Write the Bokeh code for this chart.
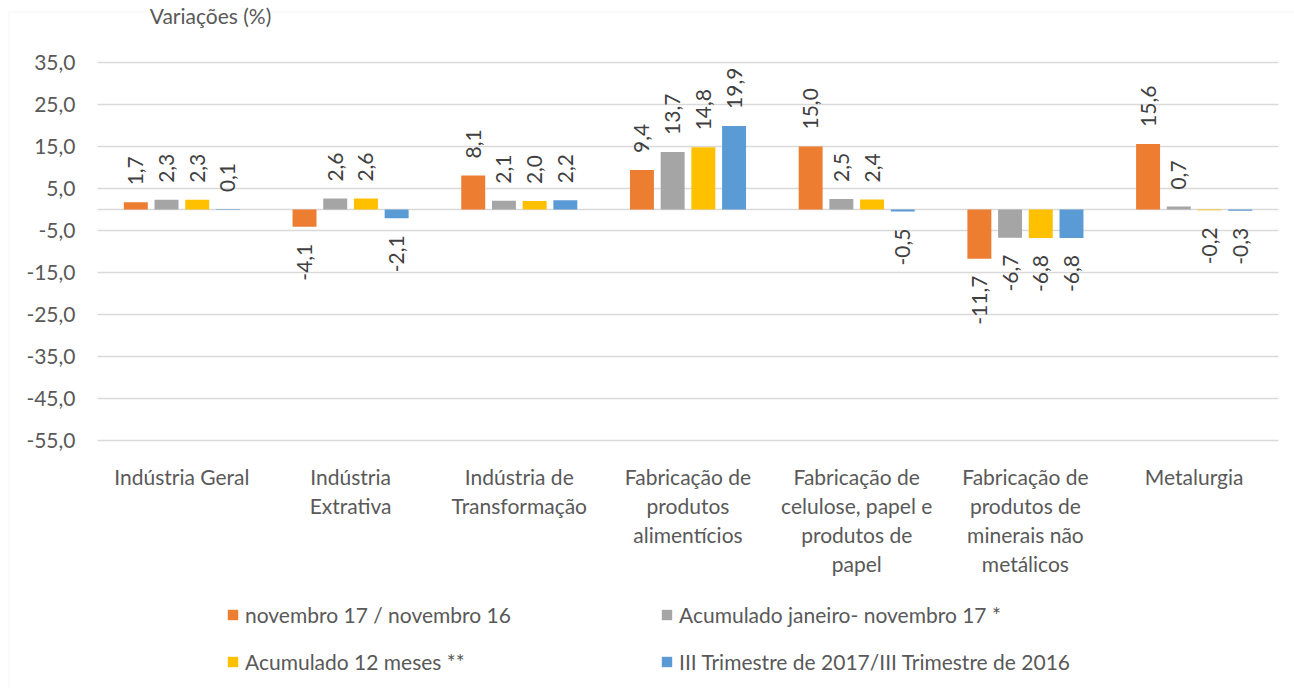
import numpy as np
from bokeh.plotting import figure
from bokeh.models import (ColumnDataSource, Range1d, Legend, LegendItem, Label, BoxAnnotation)
from bokeh.core.properties import value
from bokeh.embed import file_html
from bokeh.resources import INLINE

# ---------------- data ----------------
categories = [
    "Indústria Geral",
    "Indústria Extrativa",
    "Indústria de Transformação",
    "Fabricação de produtos alimentícios",
    "Fabricação de celulose, papel e produtos de papel",
    "Fabricação de produtos de minerais não metálicos",
    "Metalurgia",
]
category_labels = [
    "Indústria Geral",
    "Indústria\nExtrativa",
    "Indústria de\nTransformação",
    "Fabricação de\nprodutos\nalimentícios",
    "Fabricação de\ncelulose, papel e\nprodutos de\npapel",
    "Fabricação de\nprodutos de\nminerais não\nmetálicos",
    "Metalurgia",
]
series_names = [
    "novembro 17 / novembro 16",
    "Acumulado janeiro- novembro 17 *",
    "Acumulado 12 meses **",
    "III Trimestre de 2017/III Trimestre de 2016",
]
nov17_nov16 = [1.7, -4.1, 8.1, 9.4, 15.0, -11.7, 15.6]
acum_jan_nov17 = [2.3, 2.6, 2.1, 13.7, 2.5, -6.7, 0.7]
acum_12_meses = [2.3, 2.6, 2.0, 14.8, 2.4, -6.8, -0.2]
iii_trimestre = [0.1, -2.1, 2.2, 19.9, -0.5, -6.8, -0.3]
y_ticks = [-55, -45, -35, -25, -15, -5, 5, 15, 25, 35]
y_tick_labels = ["-55,0", "-45,0", "-35,0", "-25,0", "-15,0", "-5,0", "5,0", "15,0", "25,0", "35,0"]
axis_title = "Variações (%)"

series_values = [nov17_nov16, acum_jan_nov17, acum_12_meses, iii_trimestre]
colors = ["#ED7D31", "#A5A5A5", "#FFC000", "#5B9BD5"]
offsets = [-0.273, -0.091, 0.091, 0.273]

FONT = "Lato"
TXT = "#595959"
FS = "21px"

# layout (pixels) of the plot area inside the canvas
W, H = 1294, 688
PL, PR, PT, PB = 97, 1278, 62, 440
n_cat = len(categories)
y_min, y_max = min(y_ticks), max(y_ticks)
px_x = (PR - PL) / n_cat
px_y = (PB - PT) / (y_max - y_min)

p = figure(
    x_range=Range1d(-PL / px_x, n_cat + (W - PR) / px_x),
    y_range=Range1d(y_min - (H - PB) / px_y, y_max + PT / px_y),
    width=W, height=H,
    output_backend="svg", toolbar_location=None,
    x_axis_type=None, y_axis_type=None,
    min_border=0, min_border_left=0, min_border_right=0, min_border_top=0, min_border_bottom=0,
    title=None,
)
p.outline_line_color = None
p.background_fill_color = "white"
p.border_fill_color = "white"

# chart box border
p.add_layout(BoxAnnotation(left=8.5, right=3000, top=H - 11.5, bottom=-3000,
                           left_units="screen", right_units="screen",
                           top_units="screen", bottom_units="screen",
                           fill_color=None, fill_alpha=0,
                           line_color="#D9D9D9", line_width=1, level="underlay"))

# gridlines and zero line
grid_src = ColumnDataSource(dict(y=y_ticks, lab=y_tick_labels))
p.segment(x0=0, x1=n_cat, y0="y", y1="y", source=grid_src, line_color="#D9D9D9", line_width=1.5)
p.segment(x0=[0], x1=[n_cat], y0=[0], y1=[0], line_color="#D9D9D9", line_width=1.5)

# y tick labels
p.text(x=0, y="y", text="lab", source=grid_src, text_align="right", text_baseline="middle",
       x_offset=-22, text_font=value(FONT), text_font_size=FS, text_color=TXT)

# category labels
cat_x = [i + 0.5 for i in range(n_cat)]
cat_src = ColumnDataSource(dict(x=cat_x, lab=category_labels))
p.text(x="x", y=y_min, text="lab", source=cat_src, text_align="center", text_baseline="top",
       y_offset=23, text_line_height=1.16, text_font=value(FONT), text_font_size=FS,
       text_color=TXT)

renderers = []
for name, vals, col, off in zip(series_names, series_values, colors, offsets):
    src = ColumnDataSource(dict(
        x=[c + off for c in cat_x],
        val=vals,
        txt=[f"{v:.1f}".replace(".", ",") for v in vals],
        align=["left" if v >= 0 else "right" for v in vals],
        yoff=[-17 if v >= 0 else 17 for v in vals],
    ))
    r = p.vbar(x="x", top="val", width=0.142, source=src, fill_color=col, line_color=None)
    renderers.append(r)
    p.text(x="x", y="val", text="txt", source=src,
           angle=np.pi / 2, text_align="align", text_baseline="middle", y_offset="yoff",
           text_font=value(FONT), text_font_size=FS, text_color="#404040")

legend_kw = dict(
    orientation="vertical", glyph_width=13, glyph_height=13, label_standoff=6,
    padding=0, margin=0, spacing=22, border_line_color=None, background_fill_alpha=0,
    label_text_font=FONT, label_text_font_size=FS, label_text_color=TXT,
)
leg1 = Legend(items=[LegendItem(label=series_names[0], renderers=[renderers[0]]),
                     LegendItem(label=series_names[2], renderers=[renderers[2]])],
              location=(226, 14), **legend_kw)
leg2 = Legend(items=[LegendItem(label=series_names[1], renderers=[renderers[1]]),
                     LegendItem(label=series_names[3], renderers=[renderers[3]])],
              location=(660, 14), **legend_kw)
p.add_layout(leg1)
p.add_layout(leg2)

p.add_layout(Label(x=210, y=H - 15, x_units="screen", y_units="screen", text=axis_title,
                   text_align="center", text_baseline="alphabetic",
                   background_fill_color="white", background_fill_alpha=1.0,
                   text_font=FONT, text_font_size=FS, text_color=TXT))

open("out.html", "w").write(file_html(p, INLINE))
